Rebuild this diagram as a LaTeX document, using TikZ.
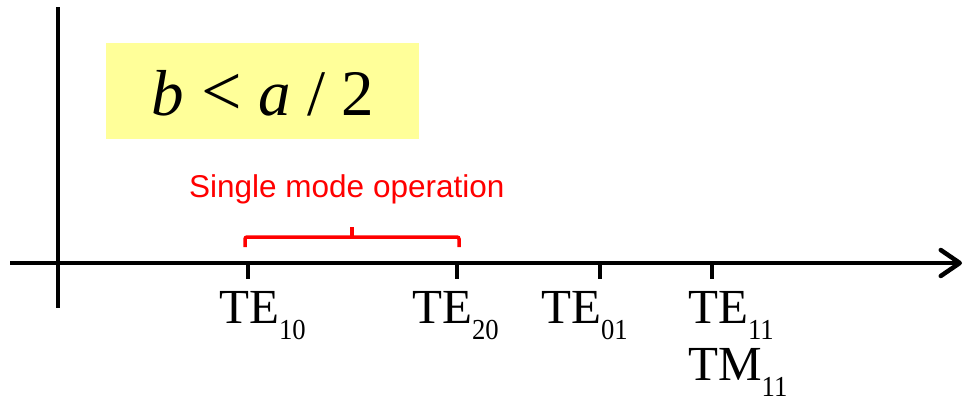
\documentclass[tikz,border=0pt]{standalone}
\usepackage{fontspec}
\setmainfont{Liberation Serif}
\newfontfamily\arialf{Liberation Sans}
\usetikzlibrary{arrows.meta}
\definecolor{hiyellow}{RGB}{255,255,153}
\definecolor{brred}{RGB}{255,0,0}
\newcommand\modesub[1]{\raisebox{-16pt}{\fontsize{29}{29}\selectfont\scalebox{0.92}[1]{#1}}}
\tikzset{
  axisline/.style={line width=4.5pt},
  tickline/.style={line width=4pt},
  modelabel/.style={anchor=base west, inner sep=0pt, font=\fontsize{49}{49}\selectfont},
  bracepath/.style={draw=brred, line width=3.5pt, rounded corners=2pt},
}
\begin{document}
\begin{tikzpicture}[x=1pt,y=-1pt]
\useasboundingbox (0,0) rectangle (965,402);
% condition box
\node[fill=hiyellow, minimum width=313pt, minimum height=96pt, anchor=north west, inner sep=0pt] (box) at (106,43) {};
\node[anchor=base west, inner sep=0pt] (cond) at (151,115) {\fontsize{65}{65}\selectfont\textit{b}\hspace{2pt} {\fontsize{72}{72}\selectfont <} \textit{a} / 2};
% axes
\coordinate (hstart) at (10,263);
\coordinate (hend) at (962,263);
\coordinate (vtop) at (58,7);
\coordinate (vbot) at (58,308);
\draw[axisline, -{Straight Barb[length=19pt,width=26pt,line cap=round,line join=round]}] (hstart) -- (hend);
\draw[axisline] (vtop) -- (vbot);
% ticks
\foreach \n/\x in {t1/248, t2/457, t3/600, t4/712}{
  \coordinate (\n) at (\x,263);
  \coordinate (\n b) at (\x,279);
  \draw[tickline] (\n) -- (\n b);
}
% brace
\coordinate (bl) at (245,247);
\coordinate (blc) at (245,237);
\coordinate (brc) at (459,237);
\coordinate (br) at (459,247);
\coordinate (bm) at (352,237);
\coordinate (bmt) at (352,227);
\draw[bracepath] (bl) -- (blc) -- (brc) -- (br);
\draw[bracepath] (bm) -- (bmt);
\node[anchor=base west, inner sep=0pt, text=brred, font=\arialf\fontsize{31.5}{31.5}\selectfont] (single) at (189,197) {Single mode operation};
% mode labels
\node[modelabel] (te10) at (219,323) {TE\modesub{10}};
\node[modelabel] (te20) at (412,323) {TE\modesub{20}};
\node[modelabel] (te01) at (541,323) {TE\modesub{01}};
\node[modelabel] (te11) at (688,323) {TE\modesub{11}};
\node[modelabel] (tm11) at (688,380) {TM\modesub{11}};
\end{tikzpicture}
\end{document}
